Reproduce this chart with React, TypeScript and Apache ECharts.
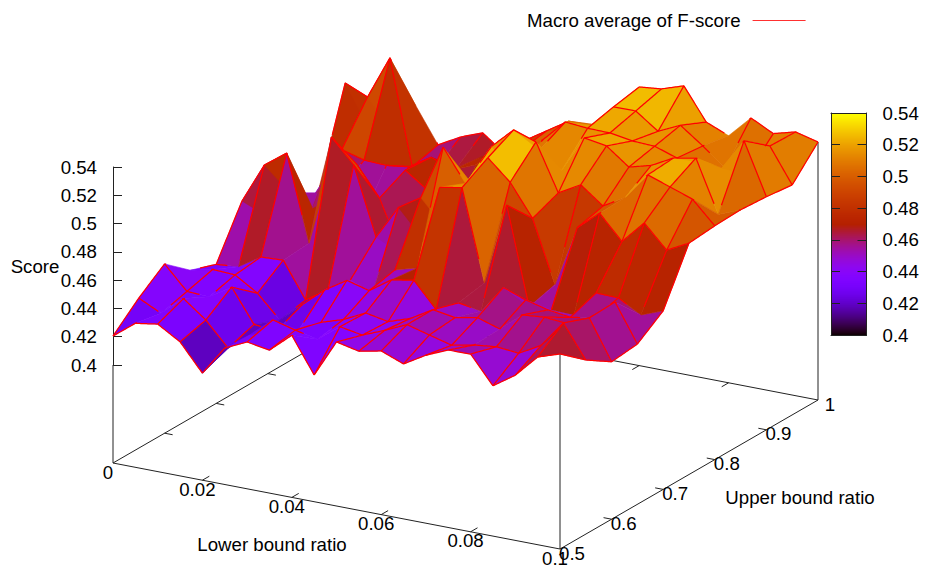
import React, { useEffect, useRef } from "react";
import * as echarts from "echarts";

const LEGEND = "Macro average of F-score";
const lowerBounds = [0, 0.005, 0.01, 0.015, 0.02, 0.025, 0.03, 0.035, 0.04, 0.045, 0.05, 0.055, 0.06, 0.065, 0.07, 0.075, 0.08, 0.085, 0.09, 0.095, 0.1];
const upperBounds = [0.5, 0.55, 0.6, 0.65, 0.7, 0.75, 0.8, 0.85, 0.9, 0.95, 1];

const scoreU050 = [.4205,.4325,.435,.4255,.4064,.4272,.4345,.4318,.4453,.4203,.4467,.4432,.4464,.4403,.4495,.4562,.4564,.437,.4475,.4634,.4686];
const scoreU055 = [.4368,.429,.4425,.4304,.4135,.4262,.4396,.4354,.432,.4439,.441,.4474,.4545,.4502,.446,.4492,.451,.4495,.458,.477,.4538];
const scoreU060 = [.4504,.434,.4332,.4431,.4198,.418,.4219,.4304,.4354,.4431,.44,.4453,.4545,.452,.455,.45,.463,.4644,.463,.47,.442];
const scoreU065 = [.4354,.439,.4382,.4283,.4124,.4262,.4396,.4495,.4453,.456,.4587,.441,.4488,.446,.4658,.46,.456,.4538,.4564,.4707,.444];
const scoreU070 = [.429,.4304,.4403,.4411,.416,.4262,.4361,.43,.4495,.4538,.5139,.5167,.4523,.5104,.4415,.4425,.4417,.4605,.46,.451,.457];
const scoreU075 = [.4633,.4918,.5033,.4425,.5207,.504,.456,.48,.49,.5287,.5061,.5273,.513,.4905,.4467,.49,.5033,.4863,.5025,.4863,.4943];
const scoreU080 = [.4414,.4615,.4538,.4976,.4905,.47,.4332,.446,.4566,.4948,.5216,.5365,.531,.498,.5068,.4948,.504,.5229,.5174,.5118,.496];
const scoreU085 = [.425,.4509,.4538,.4368,.4516,.4792,.468,.4431,.485,.5054,.4948,.5117,.5005,.5263,.5237,.5118,.516,.5243,.5273,.4905,.4968];
const scoreU090 = [.4417,.471,.4667,.466,.468,.4778,.472,.4785,.4884,.4948,.5054,.521,.5196,.5193,.5167,.516,.5107,.5111,.5096,.532,.4955];
const scoreU095 = [.5046,.4977,.5284,.4545,.455,.46,.47,.478,.488,.498,.508,.5082,.5241,.5243,.513,.5203,.5087,.4962,.495,.5178,.4933];
const scoreU100 = [.4587,.4595,.4842,.4594,.468,.474,.462,.468,.478,.49,.495,.505,.5277,.5294,.5346,.512,.5054,.521,.513,.5172,.5131];
const scoreRows = [scoreU050, scoreU055, scoreU060, scoreU065, scoreU070, scoreU075, scoreU080, scoreU085, scoreU090, scoreU095, scoreU100];

const lowerTicks = [0, 0.02, 0.04, 0.06, 0.08, 0.1];
const upperTicks = [0.5, 0.6, 0.7, 0.8, 0.9, 1];
const FLOOR = 0.3307;
const FONT = "'Liberation Sans', Arial, sans-serif";
const FS = 18.67;
const AXIS = "#222";

const project = (lo: number, up: number, s: number) => [
  113 + 4470 * lo + 516 * (up - 0.5),
  463 + 860 * lo - 298 * (up - 0.5) - (s - FLOOR) * 1414.3,
];
// distance towards the viewer of the same orthographic view
const nearness = (lo: number, up: number, s: number) => 2230 * lo - 774 * (up - 0.5) + 1223 * (s - FLOOR);

const palette = (s: number) => {
  const g = Math.min(1, Math.max(0, (s - 0.4) / 0.14));
  const r = Math.round(255 * Math.sqrt(g));
  const gg = Math.round(255 * g * g * g);
  const b = Math.round(255 * Math.max(0, Math.sin(2 * Math.PI * g)));
  return `rgb(${r},${gg},${b})`;
};

// filled cells are scanned column by column, each from the front row to the back row
const cells: number[][] = [];
for (let i = 0; i < lowerBounds.length - 1; i++) {
  for (let j = 0; j < upperBounds.length - 1; j++) cells.push([i, j]);
}

// hidden-line pass over the mesh: vertices in [screen x, screen y, nearness]
const vertex = (i: number, j: number) => {
  const p = project(lowerBounds[i], upperBounds[j], scoreRows[j][i]);
  return [p[0], p[1], nearness(lowerBounds[i], upperBounds[j], scoreRows[j][i])];
};
type Tri = { a: number[]; b: number[]; c: number[]; x0: number; x1: number; y0: number; y1: number };
const tris: Tri[] = [];
const addTri = (a: number[], b: number[], c: number[]) =>
  tris.push({ a, b, c, x0: Math.min(a[0], b[0], c[0]), x1: Math.max(a[0], b[0], c[0]), y0: Math.min(a[1], b[1], c[1]), y1: Math.max(a[1], b[1], c[1]) });
for (const [i, j] of cells) {
  const a = vertex(i, j), b = vertex(i + 1, j), c = vertex(i + 1, j + 1), d = vertex(i, j + 1);
  addTri(a, b, c);
  addTri(a, c, d);
}
const covered = (x: number, y: number, n: number) => {
  for (const t of tris) {
    if (x < t.x0 || x > t.x1 || y < t.y0 || y > t.y1) continue;
    const den = (t.b[1] - t.c[1]) * (t.a[0] - t.c[0]) + (t.c[0] - t.b[0]) * (t.a[1] - t.c[1]);
    if (Math.abs(den) < 1e-6) continue;
    const u = ((t.b[1] - t.c[1]) * (x - t.c[0]) + (t.c[0] - t.b[0]) * (y - t.c[1])) / den;
    const v = ((t.c[1] - t.a[1]) * (x - t.c[0]) + (t.a[0] - t.c[0]) * (y - t.c[1])) / den;
    const w = 1 - u - v;
    if (u < 0 || v < 0 || w < 0) continue;
    if (u * t.a[2] + v * t.b[2] + w * t.c[2] > n + 1.5) return true;
  }
  return false;
};
const wires: number[][][] = [];
const addEdge = (p: number[], q: number[]) => {
  const N = 16;
  let run: number[][] | null = null;
  for (let k = 0; k < N; k++) {
    const t0 = k / N, t1 = (k + 1) / N, tm = (k + 0.5) / N;
    const mx = p[0] + (q[0] - p[0]) * tm, my = p[1] + (q[1] - p[1]) * tm, mn = p[2] + (q[2] - p[2]) * tm;
    if (covered(mx, my, mn)) {
      if (run) wires.push(run);
      run = null;
    } else {
      if (!run) run = [[p[0] + (q[0] - p[0]) * t0, p[1] + (q[1] - p[1]) * t0]];
      run.push([p[0] + (q[0] - p[0]) * t1, p[1] + (q[1] - p[1]) * t1]);
    }
  }
  if (run) wires.push(run);
};
for (let j = 0; j < upperBounds.length; j++) {
  for (let i = 0; i < lowerBounds.length; i++) {
    if (i < lowerBounds.length - 1) addEdge(vertex(i, j), vertex(i + 1, j));
    if (j < upperBounds.length - 1) addEdge(vertex(i, j), vertex(i, j + 1));
  }
}

const edges: number[][] = [
  [0, 0.5, FLOOR, 0.1, 0.5, FLOOR],
  [0.1, 0.5, FLOOR, 0.1, 1, FLOOR],
  [0.1, 1, FLOOR, 0, 1, FLOOR],
  [0, 1, FLOOR, 0, 0.5, FLOOR],
  [0, 0.5, FLOOR, 0, 0.5, 0.4],
  [0.1, 0.5, FLOOR, 0.1, 0.5, scoreU050[20]],
  [0.1, 1, FLOOR, 0.1, 1, scoreU100[20]],
];
for (const t of lowerTicks.slice(1, -1)) {
  edges.push([t, 0.5, FLOOR, t, 0.5134, FLOOR]);
  edges.push([t, 1, FLOOR, t, 0.9866, FLOOR]);
}
for (const t of upperTicks.slice(1, -1)) {
  edges.push([0, t, FLOOR, 0.0018, t, FLOOR]);
  edges.push([0.1, t, FLOOR, 0.0982, t, FLOOR]);
}

const cbBands: number[] = [];
for (let k = 0; k < 111; k++) cbBands.push(k);

const textEl = (x: number, y: number, text: string) => ({
  type: "text",
  style: { x, y, text, fill: "#000", fontSize: FS, fontFamily: FONT, align: "center", verticalAlign: "middle" },
});

export default function App() {
  const ref = useRef<HTMLDivElement>(null);
  useEffect(() => {
    if (!ref.current) return;
    const chart = echarts.init(ref.current, undefined, { renderer: "svg" });
    const noAxis = { show: false };
    const option: any = {
      animation: false,
      backgroundColor: "#fff",
      textStyle: { fontFamily: FONT, fontSize: FS, color: "#000" },
      legend: {
        left: 522,
        top: 6,
        align: "right",
        itemWidth: 53,
        itemHeight: 1,
        icon: "rect",
        data: [LEGEND],
        selectedMode: false,
        itemStyle: { color: "#ff3030", borderWidth: 0 },
        textStyle: { fontFamily: FONT, fontSize: FS, color: "#000", padding: [0, 7, 0, 0] },
      },
      grid: [
        { left: 0, top: 0, width: 925, height: 571 },
        { left: 113, top: 167, width: 200, height: 198 },
        { left: 831, top: 113, width: 35.5, height: 222 },
      ],
      xAxis: [
        { ...noAxis, type: "value", gridIndex: 0, min: 0, max: 925 },
        { ...noAxis, type: "value", gridIndex: 1, min: 0, max: 1 },
        { type: "value", gridIndex: 2, min: 0, max: 1, position: "bottom", z: 5, axisLine: { show: true, onZero: false, lineStyle: { color: AXIS } }, axisTick: { show: false }, axisLabel: { show: false }, splitLine: { show: false } },
        { type: "value", gridIndex: 2, min: 0, max: 1, position: "top", z: 5, axisLine: { show: true, onZero: false, lineStyle: { color: AXIS } }, axisTick: { show: false }, axisLabel: { show: false }, splitLine: { show: false } },
      ],
      yAxis: [
        { ...noAxis, type: "value", gridIndex: 0, min: 0, max: 571, inverse: true },
        {
          type: "value", gridIndex: 1, min: 0.4, max: 0.54, interval: 0.02, position: "left",
          axisLine: { show: true, onZero: false, lineStyle: { color: AXIS } },
          axisTick: { show: true, inside: true, length: 9, lineStyle: { color: AXIS } },
          axisLabel: { margin: 16, fontSize: FS, fontFamily: FONT, color: "#000", formatter: (v: number) => String(+v.toFixed(2)) },
          splitLine: { show: false },
        },
        {
          type: "value", gridIndex: 2, min: 0.4, max: 0.54, interval: 0.02, position: "right", z: 5,
          axisLine: { show: true, onZero: false, lineStyle: { color: AXIS } },
          axisTick: { show: true, inside: true, length: 9, lineStyle: { color: AXIS } },
          axisLabel: { margin: 16, fontSize: FS, fontFamily: FONT, color: "#000", align: "left", formatter: (v: number) => String(+v.toFixed(2)) },
          splitLine: { show: false },
        },
        {
          type: "value", gridIndex: 2, min: 0.4, max: 0.54, interval: 0.02, position: "left", z: 5,
          axisLine: { show: true, onZero: false, lineStyle: { color: AXIS } },
          axisTick: { show: true, inside: true, length: 9, lineStyle: { color: AXIS } },
          axisLabel: { show: false },
          splitLine: { show: false },
        },
      ],
      graphic: [
        { type: "text", x: 272, y: 544, style: { text: "Lower bound ratio", fill: "#000", fontSize: FS, fontFamily: FONT, align: "center", verticalAlign: "middle" } },
        { type: "text", x: 800, y: 497, style: { text: "Upper bound ratio", fill: "#000", fontSize: FS, fontFamily: FONT, align: "center", verticalAlign: "middle" } },
        { type: "text", x: 35, y: 266, style: { text: "Score", fill: "#000", fontSize: FS, fontFamily: FONT, align: "center", verticalAlign: "middle" } },
      ],
      series: [
        {
          name: LEGEND, type: "line", xAxisIndex: 0, yAxisIndex: 0, data: [], symbol: "none", showSymbol: false,
          lineStyle: { color: "#ff3030", width: 1 }, itemStyle: { color: "#ff3030" },
        },
        {
          type: "custom", xAxisIndex: 0, yAxisIndex: 0, silent: true, z: 1, clip: false,
          data: edges,
          renderItem: (_p: any, api: any) => {
            const a = project(api.value(0), api.value(1), api.value(2));
            const b = project(api.value(3), api.value(4), api.value(5));
            const p1 = api.coord(a);
            const p2 = api.coord(b);
            return { type: "line", shape: { x1: p1[0], y1: p1[1], x2: p2[0], y2: p2[1] }, style: { stroke: AXIS, lineWidth: 1 } };
          },
          encode: { x: 0, y: 1 },
        },
        {
          type: "custom", xAxisIndex: 0, yAxisIndex: 0, silent: true, z: 1, clip: false,
          data: lowerTicks.map((t) => [t]),
          renderItem: (_p: any, api: any) => {
            const t = api.value(0);
            const c = api.coord(project(t, 0.5, FLOOR));
            return textEl(c[0] - 5, c[1] + 9, String(t));
          },
          encode: { x: 0 },
        },
        {
          type: "custom", xAxisIndex: 0, yAxisIndex: 0, silent: true, z: 1, clip: false,
          data: upperTicks.map((t) => [t]),
          renderItem: (_p: any, api: any) => {
            const t = api.value(0);
            const c = api.coord(project(0.1, t, FLOOR));
            return textEl(c[0] + 12, c[1] + 4, String(t));
          },
          encode: { x: 0 },
        },
        {
          type: "custom", xAxisIndex: 0, yAxisIndex: 0, silent: true, z: 2, clip: false,
          data: cells,
          renderItem: (_p: any, api: any) => {
            const i = api.value(0);
            const j = api.value(1);
            const corners = [[i, j], [i + 1, j], [i + 1, j + 1], [i, j + 1]];
            let sum = 0;
            const points = corners.map(([a, b]) => {
              const s = scoreRows[b][a];
              sum += s;
              return api.coord(project(lowerBounds[a], upperBounds[b], s));
            });
            const fill = palette(sum / 4);
            return { type: "polygon", shape: { points }, style: { fill, stroke: fill, lineWidth: 0.6 } };
          },
          encode: { x: 0, y: 1 },
        },
        {
          type: "custom", xAxisIndex: 0, yAxisIndex: 0, silent: true, z: 3, clip: false,
          data: wires.map((_w, k) => [k]),
          renderItem: (_p: any, api: any) => {
            const points = wires[api.value(0)].map((q) => api.coord(q));
            return { type: "polyline", shape: { points }, style: { fill: "none", stroke: "#ff0000", lineWidth: 1.25 } };
          },
          encode: { x: 0 },
        },
        {
          type: "custom", xAxisIndex: 2, yAxisIndex: 2, silent: true, z: 2, clip: false,
          data: cbBands.map((k) => [k]),
          renderItem: (_p: any, api: any) => {
            const k = api.value(0);
            const s0 = 0.4 + (k * 0.14) / 111;
            const s1 = 0.4 + ((k + 1) * 0.14) / 111;
            const a = api.coord([0, s1]);
            const b = api.coord([1, s0]);
            return { type: "rect", shape: { x: a[0], y: a[1], width: b[0] - a[0], height: b[1] - a[1] + 0.5 }, style: { fill: palette((s0 + s1) / 2) } };
          },
          encode: { x: 0 },
        },
      ],
    };
    chart.setOption(option);
    return () => chart.dispose();
  }, []);
  return <div ref={ref} style={{ position: "absolute", left: 0, top: 0, width: 925, height: 571 }} />;
}
